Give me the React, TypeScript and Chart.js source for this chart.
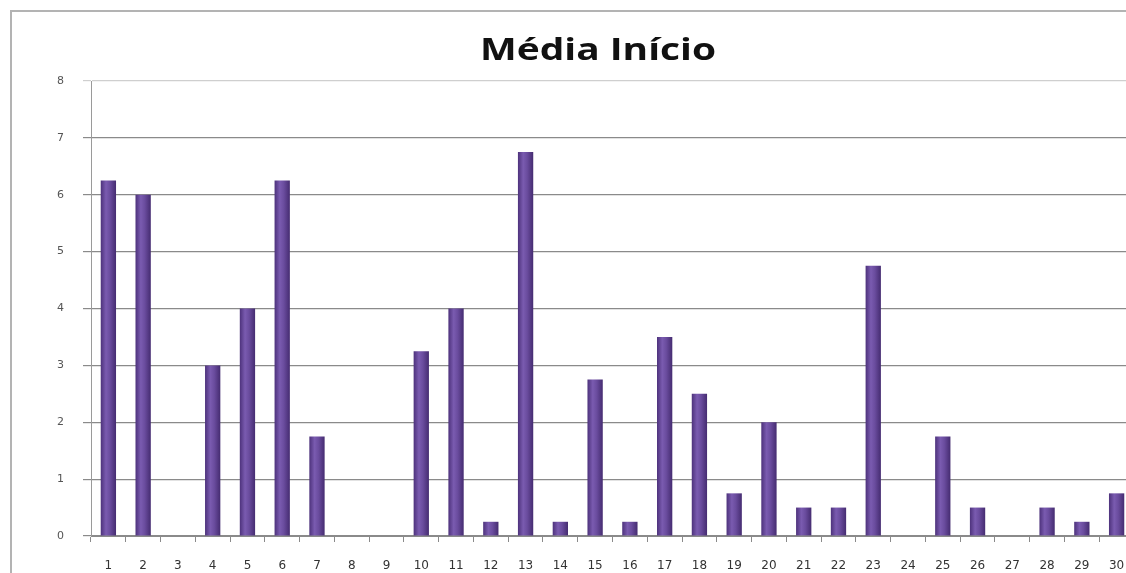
import React, { useEffect, useRef } from "react";
import { Chart, registerables } from "chart.js";

Chart.register(...registerables);

const chartTitle = "Média Início";
const categories = [
  "1", "2", "3", "4", "5", "6", "7", "8", "9", "10",
  "11", "12", "13", "14", "15", "16", "17", "18", "19", "20",
  "21", "22", "23", "24", "25", "26", "27", "28", "29", "30",
];
const values = [
  6.25, 6.0, 0, 3.0, 4.0, 6.25, 1.75, 0, 0, 3.25,
  4.0, 0.25, 6.75, 0.25, 2.75, 0.25, 3.5, 2.5, 0.75, 2.0,
  0.5, 0.5, 4.75, 0, 1.75, 0.5, 0, 0.5, 0.25, 0.75,
];
const yMin = 0;
const yMax = 8;
const yStep = 1;

const titlePlugin = {
  id: "centeredTitle",
  afterDraw(chart: any) {
    const ctx = chart.ctx;
    ctx.save();
    ctx.font = "bold 30px 'Open Sans'";
    ctx.fillStyle = "#111111";
    ctx.textAlign = "center";
    ctx.textBaseline = "alphabetic";
    const w = ctx.measureText(chartTitle).width || 1;
    const sx = 236 / w;
    ctx.translate(586, 48);
    ctx.scale(sx, 1);
    ctx.fillText(chartTitle, 0, 0);
    ctx.restore();
  },
};

export default function App() {
  const canvasRef = useRef<HTMLCanvasElement | null>(null);

  useEffect(() => {
    document.body.style.margin = "0";
    document.body.style.overflow = "hidden";
    const canvas = canvasRef.current;
    if (!canvas) return;

    const barFill = (ctx: any) => {
      const chart = ctx.chart;
      const xs = chart.scales && chart.scales.x;
      if (!xs || !chart.chartArea || ctx.dataIndex === undefined) return "#65479a";
      const cx = xs.getPixelForValue(ctx.dataIndex);
      const half = 8;
      const g = chart.ctx.createLinearGradient(cx - half, 0, cx + half, 0);
      g.addColorStop(0, "#4a2f78");
      g.addColorStop(0.35, "#7a5bb0");
      g.addColorStop(0.6, "#6a4c9e");
      g.addColorStop(1, "#432a6e");
      return g;
    };

    const chart = new Chart(canvas, {
      type: "bar",
      data: {
        labels: categories,
        datasets: [
          {
            label: chartTitle,
            data: values,
            backgroundColor: barFill,
            borderWidth: 0,
            barPercentage: 0.44,
            categoryPercentage: 1,
          },
        ],
      },
      options: {
        animation: false,
        responsive: false,
        maintainAspectRatio: false,
        layout: { padding: { top: 69, right: 50, bottom: 0, left: 0 } },
        plugins: {
          legend: { display: false },
          tooltip: { enabled: false },
          title: { display: false },
        },
        scales: {
          x: {
            grid: {
              display: true,
              offset: true,
              drawOnChartArea: false,
              drawTicks: true,
              tickLength: 6,
              color: "#8a8a8a",
            },
            border: { display: true, color: "#8a8a8a", width: 1 },
            ticks: {
              color: "#333333",
              font: { family: "DejaVu Sans", size: 12 },
              padding: 17,
              maxRotation: 0,
              autoSkip: false,
            },
            afterFit: (s: any) => {
              s.height = 44;
            },
          },
          y: {
            min: yMin,
            max: yMax,
            ticks: {
              stepSize: yStep,
              color: "#555555",
              font: { family: "DejaVu Sans", size: 11 },
              padding: 19,
            },
            grid: {
              color: (c: any) => (c.tick && c.tick.value === yMax ? "#cfcfcf" : "#8a8a8a"),
              lineWidth: 1.2,
              tickLength: 8,
            },
            border: { display: true, color: "#9a9a9a", width: 1 },
            afterFit: (s: any) => {
              s.width = 79;
            },
          },
        },
      },
      plugins: [titlePlugin],
    });

    return () => {
      chart.destroy();
    };
  }, []);

  return (
    <div
      style={{
        position: "fixed",
        left: 0,
        top: 0,
        width: 1126,
        height: 573,
        overflow: "hidden",
        background: "#ffffff",
      }}
    >
      <div
        style={{
          position: "absolute",
          left: 10,
          top: 10,
          width: 1172,
          height: 568,
          border: "2px solid #b3b3b3",
          background: "#ffffff",
        }}
      >
        <canvas
          ref={canvasRef}
          width={1172}
          height={568}
          style={{ display: "block", width: 1172, height: 568 }}
        />
      </div>
    </div>
  );
}
